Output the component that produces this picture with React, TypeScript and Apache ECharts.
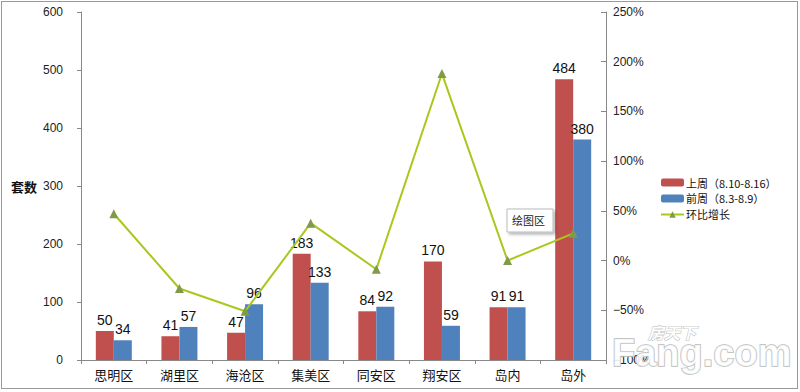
import React, { useEffect, useRef } from "react";
import * as echarts from "echarts";

const categories = ["思明区", "湖里区", "海沧区", "集美区", "同安区", "翔安区", "岛内", "岛外"];
const lastWeek = [50, 41, 47, 183, 84, 170, 91, 484];
const prevWeek = [34, 57, 96, 133, 92, 59, 91, 380];
const growth = [47.1, -28.1, -51.0, 37.6, -8.7, 188.1, 0, 27.4];
const leftTicks = [0, 100, 200, 300, 400, 500, 600];
const rightTicks = [-100, -50, 0, 50, 100, 150, 200, 250];
const legendNames = ["上周（8.10-8.16）", "前周（8.3-8.9）", "环比增长"];

export default function App() {
  const ref = useRef<HTMLDivElement>(null);
  useEffect(() => {
    if (!ref.current) return;
    const chart = echarts.init(ref.current, null, { renderer: "svg" });
    const axisFont = { fontFamily: "Liberation Sans", fontSize: 12, color: "#222" };
    const barLabel = { show: true, position: "top", fontFamily: "Liberation Sans", fontSize: 14, color: "#111", distance: 4 };
    chart.setOption({
      animation: false,
      backgroundColor: "#fff",
      grid: { left: 81, right: 194, top: 12, bottom: 32 },
      legend: {
        orient: "vertical",
        left: 655,
        top: 172,
        itemWidth: 23,
        itemHeight: 8,
        itemGap: 5,
        textStyle: { fontFamily: "Noto Sans CJK SC", fontSize: 11, color: "#111", padding: [0, 0, 0, -3] },
        data: legendNames,
      },
      xAxis: {
        type: "category",
        data: categories,
        axisLine: { lineStyle: { color: "#888" } },
        axisTick: { show: true, length: 4, lineStyle: { color: "#888" } },
        axisLabel: { fontFamily: "Noto Sans CJK SC", fontSize: 13, color: "#111", margin: 8 },
      },
      yAxis: [
        {
          type: "value",
          min: leftTicks[0],
          max: leftTicks[leftTicks.length - 1],
          interval: 100,
          name: "套数",
          nameLocation: "middle",
          nameRotate: 0,
          nameGap: 35,
          nameTextStyle: { fontFamily: "Noto Sans CJK SC", fontSize: 13, fontWeight: "bold", color: "#111" },
          axisLine: { show: true, lineStyle: { color: "#888" } },
          axisTick: { show: true, length: 4, lineStyle: { color: "#888" } },
          splitLine: { show: false },
          axisLabel: { ...axisFont, margin: 18 },
        },
        {
          type: "value",
          min: rightTicks[0],
          max: rightTicks[rightTicks.length - 1],
          interval: 50,
          position: "right",
          axisLine: { show: true, lineStyle: { color: "#888" } },
          axisTick: { show: true, inside: true, length: 5, lineStyle: { color: "#888" } },
          splitLine: { show: false },
          axisLabel: { ...axisFont, margin: 7, formatter: (v: number) => (v < 0 ? "−" + Math.abs(v) : v) + "%" },
        },
      ],
      series: [
        {
          name: legendNames[0],
          type: "bar",
          data: lastWeek,
          barWidth: 18,
          barGap: "0%",
          itemStyle: { color: "#C0504D" },
          label: barLabel,
        },
        {
          name: legendNames[1],
          type: "bar",
          data: prevWeek,
          barWidth: 18,
          barGap: "0%",
          itemStyle: { color: "#4F81BD" },
          label: barLabel,
        },
        {
          name: legendNames[2],
          type: "line",
          yAxisIndex: 1,
          data: growth,
          symbol: "triangle",
          symbolSize: 9,
          lineStyle: { color: "#A8C81E", width: 2 },
          itemStyle: { color: "#7F9A48" },
          z: 5,
        },
      ],
      graphic: [
        {
          type: "rect",
          shape: { x: 507, y: 209, width: 46, height: 23 },
          style: { fill: "#fff", stroke: "#bbb", lineWidth: 1, shadowBlur: 3, shadowOffsetX: 2, shadowOffsetY: 2, shadowColor: "rgba(0,0,0,0.3)" },
          z: 10,
        },
        {
          type: "text",
          x: 512,
          y: 214,
          style: { text: "绘图区", fontFamily: "Noto Sans CJK SC", fontSize: 11, fill: "#222" },
          z: 11,
        },
        {
          type: "text",
          x: 648,
          y: 324,
          style: { text: "房天下", fontFamily: "Noto Sans CJK SC", fontSize: 16, fontWeight: "bold", fontStyle: "italic", fill: "#fff", stroke: "#bbb", lineWidth: 1 },
          z: 10,
        },
        {
          type: "text",
          x: 612,
          y: 334,
          style: { text: "Fang.com", fontFamily: "Liberation Sans", fontSize: 38, fontWeight: "bold", fill: "rgba(255,255,255,0.85)", stroke: "#bbb", lineWidth: 1.5 },
          z: 10,
        },
      ],
    });
    return () => chart.dispose();
  }, []);
  return (
    <div style={{ position: "fixed", left: 0, top: 0, width: 800, height: 392 }}>
      <div ref={ref} style={{ width: 800, height: 392 }} />
      <div
        style={{
          position: "absolute",
          left: 1,
          top: 1,
          width: 795,
          height: 386,
          border: "1px solid #999",
          pointerEvents: "none",
        }}
      />
    </div>
  );
}
